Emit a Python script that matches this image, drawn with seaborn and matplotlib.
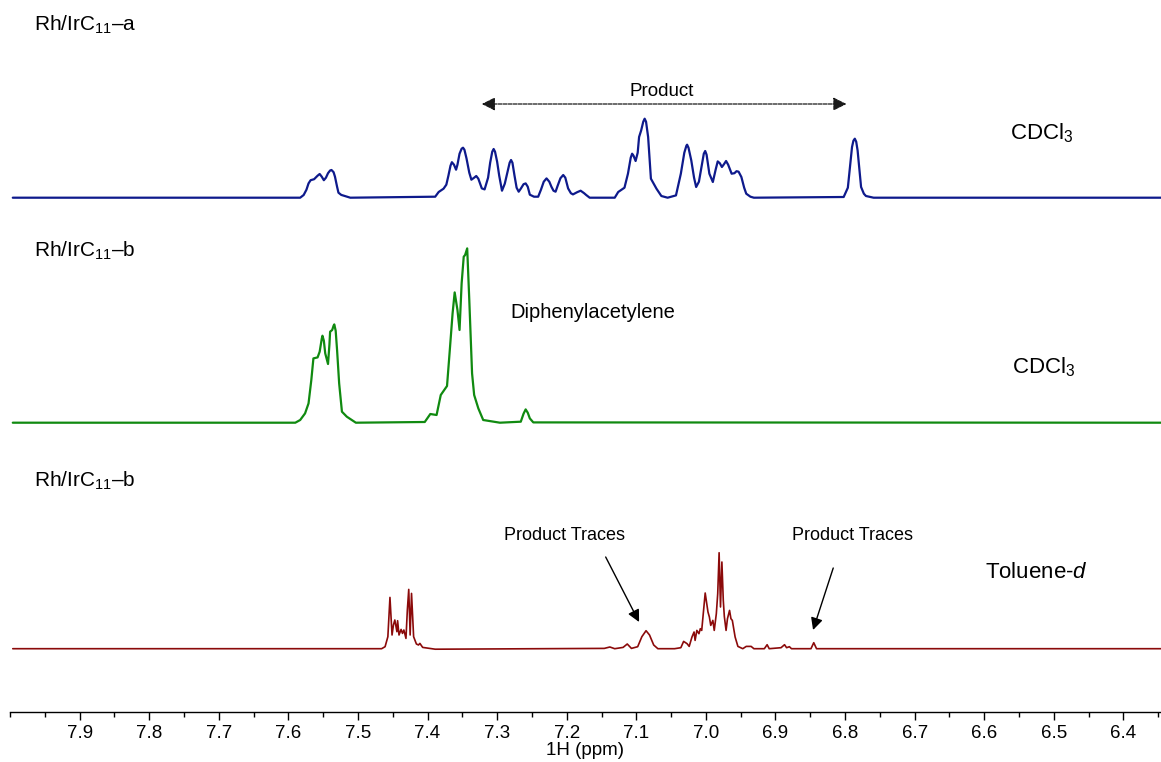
import numpy as np
import pandas as pd
import matplotlib
matplotlib.use("Agg")
import matplotlib.pyplot as plt
import seaborn as sns

# ---------------- data (ppm, intensity above baseline) ----------------
blue_ppm = [7.996, 7.583, 7.578, 7.574, 7.571, 7.568, 7.563, 7.558, 7.555, 7.552, 7.549,
            7.546, 7.543, 7.540, 7.538, 7.535, 7.533, 7.530, 7.528, 7.524, 7.518, 7.511,
            7.389, 7.384, 7.377, 7.373, 7.370, 7.367, 7.365, 7.362, 7.359, 7.357, 7.354,
            7.351, 7.349, 7.347, 7.344, 7.340, 7.337, 7.333, 7.330, 7.327, 7.322, 7.318,
            7.313, 7.310, 7.307, 7.305, 7.303, 7.300, 7.297, 7.293, 7.289, 7.285, 7.282,
            7.280, 7.278, 7.275, 7.272, 7.269, 7.266, 7.262, 7.259, 7.256, 7.253, 7.247,
            7.241, 7.237, 7.233, 7.229, 7.225, 7.222, 7.219, 7.216, 7.213, 7.209, 7.205,
            7.202, 7.198, 7.194, 7.191, 7.185, 7.180, 7.175, 7.172, 7.167, 7.131, 7.126,
            7.117, 7.112, 7.108, 7.106, 7.104, 7.101, 7.098, 7.096, 7.093, 7.090, 7.088,
            7.086, 7.083, 7.079, 7.071, 7.064, 7.055, 7.043, 7.036, 7.031, 7.028, 7.027,
            7.025, 7.021, 7.017, 7.014, 7.010, 7.007, 7.003, 7.001, 6.999, 6.995, 6.990,
            6.986, 6.983, 6.980, 6.977, 6.974, 6.971, 6.968, 6.963, 6.959, 6.956, 6.953,
            6.949, 6.945, 6.942, 6.936, 6.931, 6.802, 6.796, 6.793, 6.790, 6.788, 6.786,
            6.784, 6.782, 6.779, 6.777, 6.773, 6.770, 6.759, 6.346]
blue_int = [0, 0, 2.7, 8, 14.3, 17.5, 18.5, 22, 23.7, 21, 17.5,
            20, 24.5, 27.2, 27.7, 25.5, 21, 11, 5, 2.8, 1.5, 0,
            1, 5.7, 9, 13, 22, 32, 35.5, 33, 28, 33, 44,
            49, 50, 48, 39.3, 25, 18, 20, 21.7, 19, 9.3, 8.3,
            20, 35, 46, 48.7, 46, 36, 22, 7, 14, 26, 35,
            37.7, 35, 22, 10, 6, 9, 13.5, 14.3, 11, 3, 1,
            1, 8, 16, 19.3, 16, 11, 7, 6, 12, 19.5, 22.7,
            20, 9.3, 4.5, 3.3, 5.5, 7, 4.5, 2.7, 0, 0, 5.7,
            10, 24, 40, 44, 42, 36.7, 45, 60.7, 67.3, 76, 79,
            76, 60.7, 19, 9, 1.7, 0, 2.3, 24, 45, 52, 53,
            50, 37.3, 20, 10.7, 16, 28, 44, 46.7, 43, 24, 15.7,
            28, 36.3, 34.5, 30.7, 33.5, 36.7, 33, 24, 24.5, 26.5, 26,
            20.7, 10, 4, 1, 0, 0.7, 10, 30, 50.7, 57, 59,
            56, 47.3, 25, 10.7, 4, 1.7, 0, 0]

green_ppm = [7.996, 7.609, 7.590, 7.583, 7.576, 7.571, 7.567, 7.564, 7.558, 7.555, 7.552,
             7.551, 7.549, 7.547, 7.543, 7.541, 7.540, 7.537, 7.535, 7.534, 7.532, 7.530,
             7.527, 7.523, 7.516, 7.503, 7.404, 7.396, 7.387, 7.381, 7.372, 7.368, 7.364,
             7.361, 7.357, 7.354, 7.351, 7.348, 7.346, 7.343, 7.340, 7.336, 7.333, 7.327,
             7.320, 7.296, 7.266, 7.262, 7.259, 7.256, 7.253, 7.248, 6.346]
green_int = [0, 0, 0, 2.7, 9.3, 19.3, 42.7, 64.3, 65.3, 71, 84,
             87, 82, 69.3, 58.7, 78, 91, 92.7, 97, 98.3, 92, 72.7,
             39.3, 11, 6, 0, 0.7, 8.7, 7.7, 27.7, 36.7, 72.7, 109.3,
             130.3, 112.7, 92.7, 139.3, 166, 167.7, 174.3, 122.7, 49.3, 27.7, 14.3,
             2.7, 0, 1, 9, 13.3, 10, 4.3, 0.3, 0]

red_ppm = [7.996, 7.480, 7.466, 7.461, 7.457, 7.454, 7.451, 7.449, 7.447, 7.444, 7.443,
           7.441, 7.438, 7.436, 7.434, 7.431, 7.429, 7.427, 7.425, 7.423, 7.420, 7.416,
           7.413, 7.411, 7.407, 7.389, 7.146, 7.138, 7.131, 7.119, 7.113, 7.107, 7.098,
           7.092, 7.086, 7.081, 7.075, 7.069, 7.050, 7.045, 7.036, 7.032, 7.027, 7.024,
           7.020, 7.017, 7.0155, 7.013, 7.010, 7.008, 7.006, 7.001, 6.997, 6.995, 6.993,
           6.990, 6.988, 6.985, 6.983, 6.981, 6.979, 6.977, 6.975, 6.9735, 6.971, 6.969,
           6.966, 6.964, 6.962, 6.958, 6.954, 6.947, 6.942, 6.935, 6.931, 6.916, 6.912,
           6.909, 6.892, 6.887, 6.884, 6.880, 6.877, 6.849, 6.845, 6.841, 6.830, 6.346]
red_int = [0, 0, 0, 2, 12, 51.3, 13.7, 23.7, 28.7, 17, 28,
           13.7, 19.3, 15.3, 18.7, 10.3, 38.7, 59.3, 13.7, 55.3, 12, 4.7,
           3.7, 5.3, 1.3, -0.5, 0.3, 1.7, 0, 1.3, 4.7, 0.3, 2,
           12, 18, 13.7, 3.7, 0, 0, 0, 1, 7.3, 5, 2.3,
           11.7, 16.7, 8.3, 18.3, 15, 20, 18.3, 55.7, 36.7, 31.7, 23.3,
           28.3, 18.3, 35, 55, 96, 41.7, 86.7, 48.3, 32.3, 18.3, 30,
           38.3, 30, 28.3, 11.7, 2.3, 0, 2.3, 2.3, 0, 0, 4,
           0, 1, 4, 1, 2, 0, 0, 6, 0, 0, 0]

trace_names = ["Rh/IrC11-a (CDCl3)", "Rh/IrC11-b (CDCl3)", "Rh/IrC11-b (Toluene-d)"]
sample_labels = ["Rh/IrC$_{\\mathrm{11}}$\u2013a", "Rh/IrC$_{\\mathrm{11}}$\u2013b",
                 "Rh/IrC$_{\\mathrm{11}}$\u2013b"]
solvent_labels = ["CDCl$_{\\mathrm{3}}$", "CDCl$_{\\mathrm{3}}$", "Toluene-$\\mathit{d}$"]

# ---------------- style ----------------
sns.set_theme(style="white")
plt.rcParams["font.family"] = ["Liberation Sans", "DejaVu Sans"]
plt.rcParams["mathtext.fontset"] = "custom"
plt.rcParams["mathtext.rm"] = "Liberation Sans"
plt.rcParams["mathtext.it"] = "Liberation Sans:italic"
plt.rcParams["mathtext.bf"] = "Liberation Sans:bold"
plt.rcParams["text.color"] = "black"
plt.rcParams["axes.labelcolor"] = "black"
plt.rcParams["xtick.color"] = "black"
plt.rcParams["xtick.labelcolor"] = "black"

W, H = 1161, 762
fig = plt.figure(figsize=(W / 100, H / 100), dpi=100)
ax = fig.add_axes([10 / W, 50 / H, 1 - 10 / W, 712 / H])

offsets = [514.3, 289.3, 63.3]
colors = ["#0e1a8c", "#108a10", "#8b0a0a"]
widths = [1.6, 1.6, 1.2]
series = [(blue_ppm, blue_int), (green_ppm, green_int), (red_ppm, red_int)]

for (xs, ys), off, c, lw, name in zip(series, offsets, colors, widths, trace_names):
    df = pd.DataFrame({"ppm": xs, "intensity": np.asarray(ys, dtype=float) + off})
    sns.lineplot(data=df, x="ppm", y="intensity", ax=ax, color=c, linewidth=lw,
                 sort=False, estimator=None, legend=False,
                 solid_joinstyle="round", solid_capstyle="round")

ax.set_xlim(7.996, 6.346)
ax.set_ylim(0, 712)

# axes cosmetics
for s in ["left", "right", "top"]:
    ax.spines[s].set_visible(False)
ax.spines["bottom"].set_color("black")
ax.spines["bottom"].set_linewidth(1.0)
ax.set_yticks([])
ax.set_ylabel("")
major = np.round(np.arange(6.4, 7.95, 0.1), 2)
minor = np.round(np.arange(6.35, 8.0, 0.05), 2)
ax.set_xticks(major)
ax.set_xticklabels([f"{v:.1f}" for v in major])
ax.set_xticks(minor, minor=True)
ax.tick_params(axis="x", which="major", direction="out", length=6, width=1,
               color="black", labelcolor="black", labelsize=13.5, pad=3, bottom=True)
ax.tick_params(axis="x", which="minor", direction="out", length=3.5, width=1,
               color="black", bottom=True)
ax.set_xlabel("1H (ppm)", fontsize=13.5, labelpad=0.5, color="black")
ax.grid(False)

# labels
for lab, y in zip(sample_labels, [687, 461, 231]):
    ax.text(7.966, y, lab, fontsize=15, ha="left", va="center", color="black")
for lab, x, y in zip(solvent_labels, [6.518, 6.515, 6.525], [579, 345, 140]):
    ax.text(x, y, lab, fontsize=16, ha="center", va="center", color="black")

ax.text(7.163, 400, "Diphenylacetylene", fontsize=14.5, ha="center", va="center",
        color="black")

# product range arrow
ax.text(7.064, 621, "Product", fontsize=13.5, ha="center", va="center", color="black")
ax.annotate("", xy=(6.798, 608), xytext=(7.322, 608),
            arrowprops=dict(arrowstyle="<|-|>", color="#1a1a1a", lw=0.9,
                            linestyle=(0, (3, 1)), mutation_scale=20,
                            shrinkA=0, shrinkB=0))

# product traces
ax.text(7.203, 176, "Product Traces", fontsize=13, ha="center", va="center",
        color="black")
ax.annotate("", xy=(7.096, 90), xytext=(7.144, 155),
            arrowprops=dict(arrowstyle="-|>", color="black", lw=1.0,
                            mutation_scale=18, shrinkA=0, shrinkB=0))
ax.text(6.790, 177, "Product Traces", fontsize=13, ha="center", va="center",
        color="black")
ax.annotate("", xy=(6.846, 82), xytext=(6.817, 144),
            arrowprops=dict(arrowstyle="-|>", color="black", lw=1.0,
                            mutation_scale=18, shrinkA=0, shrinkB=0))

fig.savefig("out.png", dpi=100)
